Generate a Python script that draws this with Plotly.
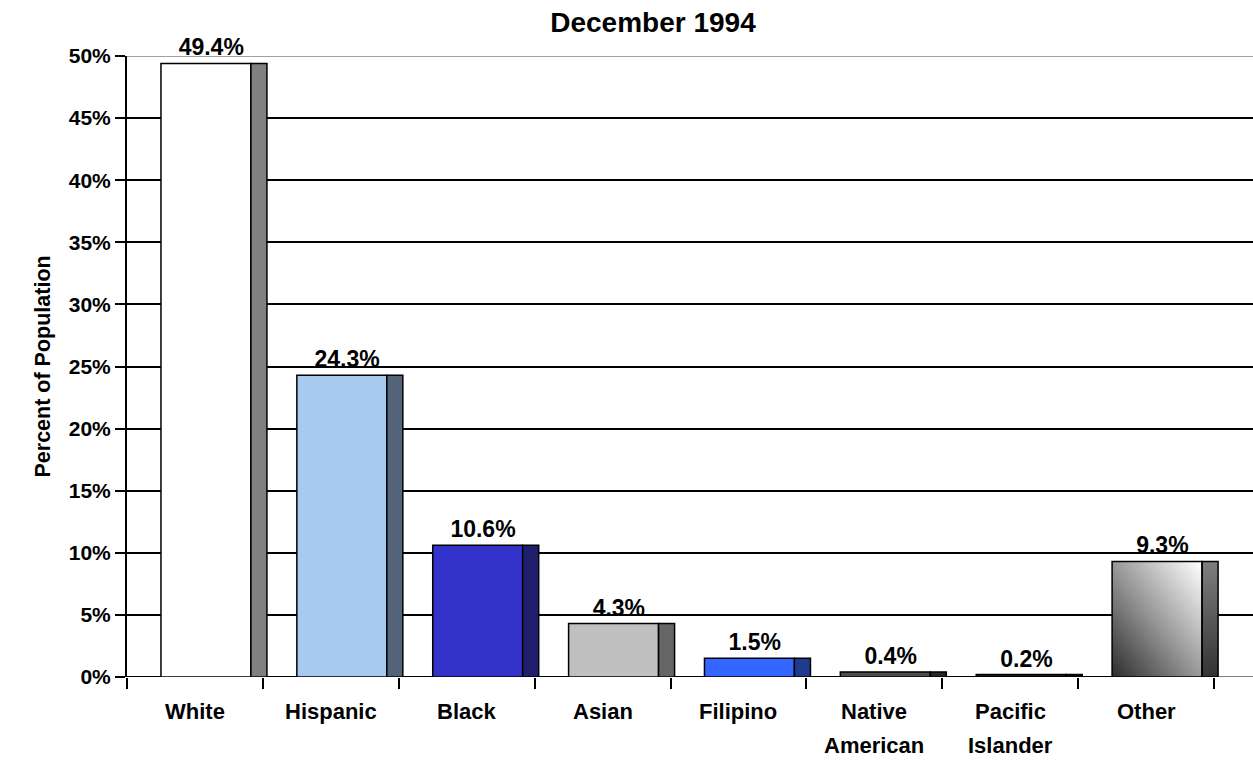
import numpy as np
import plotly.graph_objects as go

# Population shares by group, December 1994
categories = ["White", "Hispanic", "Black", "Asian", "Filipino",
              "Native\nAmerican", "Pacific\nIslander", "Other"]
values = [49.4, 24.3, 10.6, 4.3, 1.5, 0.4, 0.2, 9.3]
front_colors = ["#FFFFFF", "#A6CAF0", "#3333CC", "#C0C0C0", "#3366FF",
                "#4D4D4D", "#1A1A1A", None]
side_colors = ["#808080", "#536478", "#1F1F6E", "#666666", "#1F3A8F",
               "#262626", "#0D0D0D", None]
y_ticks = list(range(0, 55, 5))

FONT = "Liberation Sans, Arial, sans-serif"
FRONT_OFF, FRONT_W = -0.25, 0.662
SIDE_OFF, SIDE_W = 0.412, 0.118

pos = list(range(len(categories)))

fig = go.Figure()

# gradient-filled faces for the bar without a flat colour
for i, (v, fc) in enumerate(zip(values, front_colors)):
    if fc is not None:
        continue
    nx, ny = 60, 60
    u = np.linspace(0, 1, nx)
    w = np.linspace(0, 1, ny)
    U, W = np.meshgrid(u, w)
    fig.add_trace(go.Heatmap(
        x=np.linspace(i + FRONT_OFF, i + FRONT_OFF + FRONT_W, nx + 1),
        y=np.linspace(0, v, ny + 1),
        z=(U + W) / 2, zmin=0, zmax=1,
        colorscale=[[0, "#2E2E2E"], [0.5, "#9A9A9A"], [1, "#FFFFFF"]],
        showscale=False, hoverinfo="skip"))
    fig.add_trace(go.Heatmap(
        x=np.linspace(i + SIDE_OFF, i + SIDE_OFF + SIDE_W, 9),
        y=np.linspace(0, v, ny + 1),
        z=np.tile(w[:, None], (1, 8)), zmin=0, zmax=1,
        colorscale=[[0, "#333333"], [1, "#7E7E7E"]],
        showscale=False, hoverinfo="skip"))

# front faces
fig.add_trace(go.Bar(
    x=pos, y=values, width=FRONT_W, offset=FRONT_OFF,
    marker=dict(color=[c if c else "rgba(0,0,0,0)" for c in front_colors],
                line=dict(color="black", width=1.5)),
    cliponaxis=False, hoverinfo="skip"))

# shaded side faces
fig.add_trace(go.Bar(
    x=pos, y=values, width=SIDE_W, offset=SIDE_OFF,
    marker=dict(color=[c if c else "rgba(0,0,0,0)" for c in side_colors],
                line=dict(color="black", width=1.5)),
    cliponaxis=False, hoverinfo="skip"))

# value labels centred over the whole column
fig.add_trace(go.Bar(
    x=pos, y=values, width=0.74, offset=FRONT_OFF,
    marker=dict(color="rgba(0,0,0,0)", line=dict(width=0)),
    text=[f"{v:.1f}%" for v in values], textposition="outside",
    textfont=dict(family=FONT, size=23, color="black", weight="bold"),
    constraintext="none", cliponaxis=False, hoverinfo="skip"))

n = len(categories)
x_end = n - 0.5 + 39 / 135.9

# category labels under the axis
annotations = []
for i, label in enumerate(categories):
    for k, line in enumerate(label.split("\n")):
        annotations.append(dict(
            x=i, y=0, xref="x", yref="y", text=line, showarrow=False,
            yanchor="middle", yshift=-34 - 34 * k,
            font=dict(family=FONT, size=22, color="black", weight="bold")))

annotations.append(dict(
    x=-85 / 1126, y=0.5, xref="paper", yref="paper",
    text="Percent of Population", textangle=-90, showarrow=False,
    xanchor="center", yanchor="middle",
    font=dict(family=FONT, size=21.5, color="black", weight="bold")))

shapes = [
    dict(type="line", xref="x", yref="y", x0=-0.5, x1=x_end, y0=50, y1=50,
         line=dict(color="#808080", width=1.5), layer="between"),
    dict(type="line", xref="x", yref="y", x0=-0.5, x1=n - 0.5, y0=0, y1=0,
         line=dict(color="black", width=2), layer="between"),
    dict(type="line", xref="x", yref="y", x0=n - 0.5, x1=x_end, y0=0, y1=0,
         line=dict(color="#808080", width=2), layer="between"),
]

fig.update_layout(
    width=1253, height=760,
    margin=dict(l=127, r=0, t=56, b=83),
    paper_bgcolor="white", plot_bgcolor="white",
    barmode="overlay", showlegend=False,
    title=dict(text="December 1994", x=653 / 1253, xref="container",
               y=1 - 22 / 760, yref="container",
               xanchor="center", yanchor="middle",
               font=dict(family=FONT, size=28, color="black", weight="bold")),
    annotations=annotations, shapes=shapes,
    xaxis=dict(range=[-0.5, x_end], showgrid=False, zeroline=False,
               showline=False, tickmode="array",
               tickvals=[i - 0.5 for i in range(n + 1)],
               showticklabels=False, ticks="outside", ticklen=11,
               tickwidth=2, tickcolor="black"),
    yaxis=dict(range=[0, 50], tickmode="array", tickvals=y_ticks,
               ticktext=[f"{t}%" for t in y_ticks],
               showgrid=True, gridcolor="black", gridwidth=2,
               zeroline=False, showline=True, linecolor="black", linewidth=2,
               ticks="outside", ticklen=10, tickwidth=2, tickcolor="black",
               tickfont=dict(family=FONT, size=21, color="black",
                             weight="bold")),
)

fig.write_html("out.html")
